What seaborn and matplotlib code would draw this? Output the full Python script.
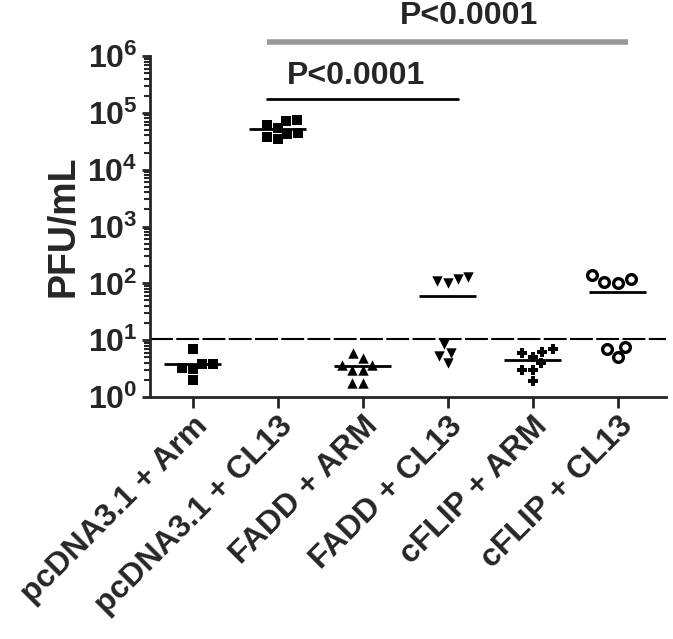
import numpy as np
import pandas as pd
import matplotlib
matplotlib.use("Agg")
import matplotlib.pyplot as plt
import matplotlib.ticker as mticker
import seaborn as sns

# data (PFU/mL per mouse)
groups = ["pcDNA3.1 + Arm", "pcDNA3.1 + CL13", "FADD + ARM",
          "FADD + CL13", "cFLIP + ARM", "cFLIP + CL13"]
pcdna_arm = [3.8, 3.3, 3.8, 2.0, 7.0, 3.1]
pcdna_cl13 = [75000, 72000, 60000, 55000, 42000, 38000, 35000, 45000]
fadd_arm = [5.9, 3.0, 3.7, 1.8, 3.7, 1.8, 4.8, 3.0]
fadd_cl13 = [118, 100, 112, 128, 6.0, 8.5, 4.0, 5.3]
cflip_arm = [6.3, 5.1, 3.9, 5.9, 6.9, 3.0, 3.0, 1.9]
cflip_cl13 = [141, 107, 100, 118, 7.7, 5.0, 7.0]
detection_limit = 10.5
p_labels = ["P<0.0001", "P<0.0001"]

values = [pcdna_arm, pcdna_cl13, fadd_arm, fadd_cl13, cflip_arm, cflip_cl13]
df = pd.DataFrame({
    "group": np.repeat(groups, [len(v) for v in values]),
    "pfu": np.concatenate(values),
})

sns.set_style("ticks")
plt.rcParams.update({
    "font.family": ["Liberation Sans", "DejaVu Sans"],
    "font.weight": "bold",
    "mathtext.fontset": "custom",
    "mathtext.rm": "Liberation Sans:bold",
    "mathtext.bf": "Liberation Sans:bold",
    "axes.linewidth": 2,
})

fig = plt.figure(figsize=(6.73, 6.39), dpi=100)
ax = fig.add_axes([0.2229, 0.3787, 0.7667, 0.5336])
ax.set_yscale("log")

# one swarm per group so each gets its own marker
styles = [
    dict(marker="s", color="black", size=7.5),
    dict(marker="s", color="black", size=7.5),
    dict(marker="^", color="black", size=7.5),
    dict(marker="v", color="black", size=7.5),
    dict(marker="P", color="black", size=7.5),
    dict(marker="o", color="white", edgecolor="black", linewidth=2.4, size=7),
]
for g, st in zip(groups, styles):
    sns.swarmplot(data=df[df["group"] == g], x="group", y="pfu",
                  order=groups, ax=ax, **st)

# mean lines
means = df.groupby("group", sort=False)["pfu"].mean()
for i, g in enumerate(groups):
    ax.hlines(means[g], i - 0.34, i + 0.34, color="black", lw=2, zorder=5)

# limit of detection
ax.axhline(detection_limit, color="black", lw=1.5, ls=(0, (11, 1.6)), zorder=1)

ax.set_xlim(-0.5, 5.57)
ax.set_ylim(1, 1e6)

ax.yaxis.set_major_locator(mticker.LogLocator(base=10, numticks=10))
ax.yaxis.set_minor_locator(mticker.LogLocator(base=10, subs=np.arange(2, 10), numticks=10))
ax.yaxis.set_minor_formatter(mticker.NullFormatter())
ax.yaxis.set_major_formatter(mticker.FuncFormatter(
    lambda v, pos: r"$\mathbf{10^{%d}}$" % round(np.log10(v))))
ax.tick_params(axis="y", which="major", length=6, width=2, labelsize=23, pad=3)
ax.tick_params(axis="y", which="minor", length=4, width=1.5)
ax.tick_params(axis="x", length=8, width=2, labelsize=23, pad=2)
ax.set_xticks(range(len(groups)))
ax.set_xticklabels(groups, rotation=45, ha="right", va="top",
                   rotation_mode="anchor", fontweight="bold")

ax.set_xlabel("")
ax.set_ylabel("PFU/mL", fontsize=27, fontweight="bold", labelpad=4)
sns.despine(ax=ax)

# significance brackets
ax.plot([0.88, 3.12], [10**5.25, 10**5.25], color="black", lw=2, clip_on=False)
ax.text(1.92, 10**5.65, p_labels[0], ha="center", va="center",
        fontsize=23, fontweight="bold")
ax.plot([0.88, 5.12], [10**6.25, 10**6.25], color="#999999", lw=4,
        clip_on=False, solid_capstyle="butt")
ax.text(3.25, 10**6.7, p_labels[1], ha="center", va="center",
        fontsize=23, fontweight="bold", clip_on=False)

fig.savefig("out.png", dpi=100, facecolor="white")
